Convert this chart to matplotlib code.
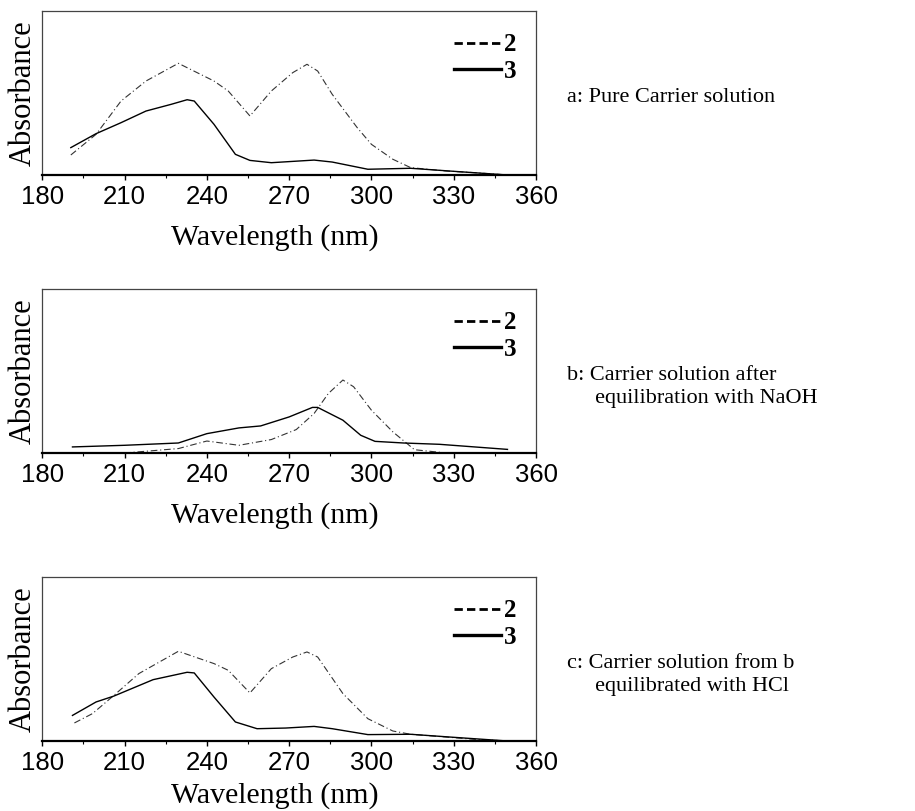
import numpy as np
import matplotlib.pyplot as plt
from matplotlib.lines import Line2D
from matplotlib.ticker import MultipleLocator

plt.rcParams['font.family'] = 'Liberation Serif'

# ---- data (absorbance in arbitrary units, 0..1 of the frame) ----
wl_a2 = [190.4, 199.6, 208.7, 217.8, 229.6, 242.6, 247.8, 255.7, 263.5, 271.3,
         276.5, 280.4, 285.7, 294.8, 300.0, 307.8, 314.3, 327.4, 337.8, 349.6]
abs_a2 = [0.122, 0.248, 0.451, 0.573, 0.681, 0.573, 0.512, 0.360, 0.512, 0.624,
          0.675, 0.634, 0.492, 0.289, 0.187, 0.096, 0.045, 0.024, 0.014, 0.0]
wl_a3 = [190.4, 199.6, 208.7, 217.8, 227.0, 232.8, 235.4, 242.6, 250.4, 255.7,
         263.5, 279.1, 285.7, 298.7, 314.3, 328.7, 349.6]
abs_a3 = [0.167, 0.252, 0.319, 0.390, 0.431, 0.459, 0.451, 0.309, 0.126, 0.089,
          0.075, 0.091, 0.079, 0.035, 0.041, 0.024, 0.0]

wl_b2 = [190.4, 210.0, 229.6, 240.0, 251.7, 263.5, 272.6, 279.1, 284.3, 289.6,
         293.5, 300.0, 307.8, 315.7, 327.4, 349.6]
abs_b2 = [0.0, 0.0, 0.027, 0.073, 0.047, 0.082, 0.143, 0.241, 0.363, 0.445,
          0.404, 0.261, 0.129, 0.020, 0.0, 0.0]
wl_b3 = [191.0, 210.0, 229.6, 240.0, 251.7, 259.6, 270.0, 278.5, 280.4, 289.6,
         296.1, 301.3, 311.7, 324.8, 349.6]
abs_b3 = [0.037, 0.047, 0.061, 0.118, 0.153, 0.165, 0.220, 0.278, 0.278, 0.200,
          0.108, 0.071, 0.061, 0.053, 0.022]

wl_c2 = [191.7, 198.3, 206.1, 215.2, 229.6, 242.6, 247.8, 255.7, 263.5, 271.3,
         276.5, 280.4, 289.6, 298.7, 307.8, 314.3, 327.4, 337.8, 349.6]
abs_c2 = [0.110, 0.167, 0.278, 0.411, 0.547, 0.472, 0.431, 0.293, 0.441, 0.512,
          0.543, 0.512, 0.289, 0.136, 0.061, 0.041, 0.024, 0.010, 0.0]
wl_c3 = [191.0, 199.6, 206.1, 220.4, 232.8, 235.4, 242.6, 250.4, 258.3, 268.7,
         279.1, 285.7, 298.7, 314.3, 328.7, 349.6]
abs_c3 = [0.156, 0.238, 0.274, 0.374, 0.419, 0.415, 0.268, 0.116, 0.075, 0.079,
          0.089, 0.075, 0.039, 0.041, 0.024, 0.0]

panels = [
    (wl_a2, abs_a2, wl_a3, abs_a3),
    (wl_b2, abs_b2, wl_b3, abs_b3),
    (wl_c2, abs_c2, wl_c3, abs_c3),
]
captions = [
    ["a: Pure Carrier solution"],
    ["b: Carrier solution after", "     equilibration with NaOH"],
    ["c: Carrier solution from b", "     equilibrated with HCl"],
]
legend_labels = ['2', '3']

W, H = 915, 811
fig = plt.figure(figsize=(W / 100, H / 100), dpi=100)

# frame edges in pixels (top, bottom)
frames = [(11, 175), (289, 453), (577, 741)]
caption_y = [98, 375, 663]
xlabel_y = [-0.30, -0.30, -0.25]

for i, (x2, y2, x3, y3) in enumerate(panels):
    top, bot = frames[i]
    ax = fig.add_axes([42.3 / W, 1 - bot / H, 493.7 / W, (bot - top) / H])
    ax.plot(x2, y2, color='#333333', lw=0.8, linestyle=(0, (6, 2.5, 1, 2.5)))
    ax.plot(x3, y3, color='black', lw=1.0)

    ax.set_xlim(180, 360)
    ax.set_ylim(0, 1)
    ax.xaxis.set_major_locator(MultipleLocator(30))
    ax.xaxis.set_minor_locator(MultipleLocator(15))
    ax.tick_params(axis='x', which='major', direction='out', length=3.5, width=1,
                   labelsize=18.5, pad=3.5)
    ax.tick_params(axis='x', which='minor', direction='out', length=2.5, width=0.8)
    for lab in ax.get_xticklabels():
        lab.set_family('Liberation Sans')
    ax.set_yticks([])
    for s in ['top', 'right', 'left']:
        ax.spines[s].set_linewidth(0.9)
        ax.spines[s].set_color('#444444')
    ax.spines['bottom'].set_linewidth(1.6)

    ax.set_xlabel('Wavelength (nm)', fontsize=21.5)
    ax.xaxis.set_label_coords(0.47, xlabel_y[i])
    ax.set_ylabel('Absorbance', fontsize=22, labelpad=3)

    handles = [Line2D([], [], color='black', lw=2, linestyle=(0, (3, 1.5))),
               Line2D([], [], color='black', lw=2.4)]
    ax.legend(handles, legend_labels, loc='upper right', frameon=False,
              bbox_to_anchor=(0.98, 0.925), handlelength=1.9, handletextpad=0.1,
              labelspacing=0.15, borderaxespad=0,
              prop={'family': 'Liberation Serif', 'weight': 'bold', 'size': 18})

    for j, line in enumerate(captions[i]):
        fig.text(567 / W, 1 - (caption_y[i] + 23 * j) / H, line,
                 fontsize=16, va='center', ha='left')

fig.savefig('out.png', dpi=100)
